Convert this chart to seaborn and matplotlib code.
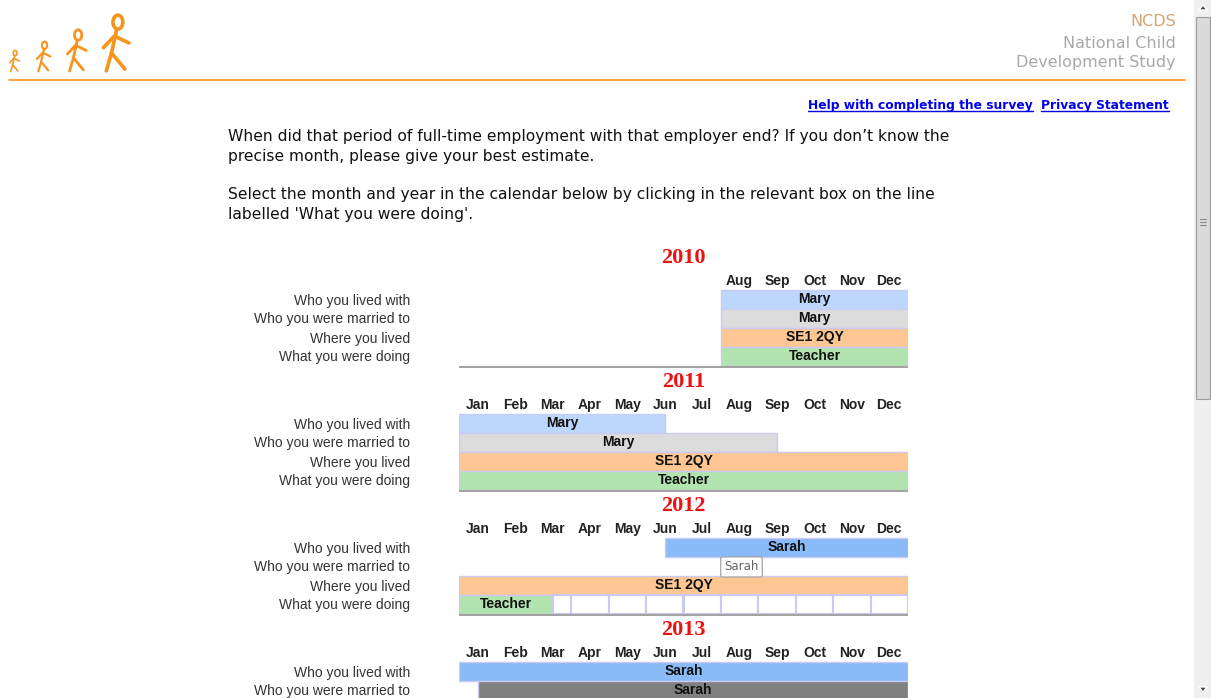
import numpy as np
import pandas as pd
import matplotlib.pyplot as plt
from matplotlib.patches import Rectangle, Ellipse, Polygon
import seaborn as sns

W, H = 1211, 698

# calendar data
years = [2010, 2011, 2012, 2013]
months = ['Jan', 'Feb', 'Mar', 'Apr', 'May', 'Jun', 'Jul', 'Aug', 'Sep', 'Oct', 'Nov', 'Dec']
first_month = [7, 0, 0, 0]          # 2010 only shown from Aug
rows_shown = [4, 4, 4, 2]           # 2013 runs off the bottom of the page
row_labels = ['Who you lived with', 'Who you were married to', 'Where you lived', 'What you were doing']

# spans on each line, in months from start of Jan (half months allowed)
seg_year  = [2010, 2010, 2010, 2010, 2011, 2011, 2011, 2011, 2012, 2012, 2012, 2013, 2013]
seg_row   = [0, 1, 2, 3, 0, 1, 2, 3, 0, 2, 3, 0, 1]
seg_start = [7, 7, 7, 7, 0, 0, 0, 0, 5.5, 0, 0, 0, 0.5]
seg_end   = [12, 12, 12, 12, 5.5, 8.5, 12, 12, 12, 12, 2.5, 12, 12]
seg_text  = ['Mary', 'Mary', 'SE1 2QY', 'Teacher', 'Mary', 'Mary', 'SE1 2QY', 'Teacher',
             'Sarah', 'SE1 2QY', 'Teacher', 'Sarah', 'Sarah']
seg_kind  = ['lived', 'married', 'where', 'doing', 'lived', 'married', 'where', 'doing',
             'lived_new', 'where', 'doing', 'lived_new', 'married_new']

# empty boxes still to click on the 'What you were doing' line
open_year = 2012
open_start = [2.5, 3, 4, 5, 6, 7, 8, 9, 10, 11]
open_end   = [3, 4, 5, 6, 7, 8, 9, 10, 11, 12]

df = pd.DataFrame({'year': seg_year, 'row': seg_row, 'start': seg_start,
                   'end': seg_end, 'text': seg_text, 'kind': seg_kind})

kind_colors = {'lived': '#bcd7fb', 'lived_new': '#88bbf8', 'married': '#dcdcdc',
               'married_new': '#808080', 'where': '#fdc692', 'doing': '#b2e4af'}
cell_edge = '#cacaf2'
orange = '#f7941d'

sns.set_theme(style='white')
plt.rcParams['font.family'] = ['Liberation Sans', 'DejaVu Sans']

fig = plt.figure(figsize=(W / 100, H / 100), dpi=100, facecolor='white')

# background layer in pixel coords (y down)
bg = fig.add_axes([0, 0, 1, 1], zorder=0)
bg.set_xlim(0, W)
bg.set_ylim(H, 0)
bg.axis('off')


def stick(cx, base, h):
    lw = 0.04 * h + 0.3
    bg.add_patch(Ellipse((cx + 0.05 * h, base - 0.86 * h), 0.17 * h, 0.24 * h,
                         fill=False, ec=orange, lw=lw))
    hip = (cx - 0.06 * h, base - 0.33 * h)
    bg.plot([cx + 0.03 * h, hip[0]], [base - 0.74 * h, hip[1]], color=orange, lw=lw,
            solid_capstyle='round')
    bg.plot([cx - 0.2 * h, cx - 0.01 * h, cx + 0.24 * h],
            [base - 0.42 * h, base - 0.62 * h, base - 0.5 * h], color=orange, lw=lw,
            solid_capstyle='round', solid_joinstyle='round')
    bg.plot([cx - 0.15 * h, hip[0], cx + 0.17 * h], [base - 0.02 * h, hip[1], base - 0.05 * h],
            color=orange, lw=lw, solid_capstyle='round', solid_joinstyle='round')


for cx, hh in zip([14, 43, 76, 115], [22, 31, 43, 58]):
    stick(cx, 72, hh)

bg.plot([9, 1185], [80, 80], color=orange, lw=1.2)

hdr = dict(ha='right', va='center', family='DejaVu Sans', fontsize=11.5)
bg.text(1176, 22, 'NCDS', color='#d8a26f', **hdr)
bg.text(1176, 43, 'National Child', color='#a8a8a8', **hdr)
bg.text(1176, 63, 'Development Study', color='#a8a8a8', **hdr)

lnk = dict(ha='right', va='center', family='DejaVu Sans', fontsize=8.85,
           fontweight='bold', color='#0000ee')
links = [bg.text(1169, 105, 'Privacy Statement', **lnk),
         bg.text(1033, 105, 'Help with completing the survey', **lnk)]

body = dict(ha='left', va='center', family='DejaVu Sans', fontsize=11.2, color='#111111')
bg.text(228, 137, "When did that period of full-time employment with that employer end? If you don\u2019t know the", **body)
bg.text(228, 157, "precise month, please give your best estimate.", **body)
bg.text(228, 194, "Select the month and year in the calendar below by clicking in the relevant box on the line", **body)
bg.text(228, 214, "labelled 'What you were doing'.", **body)

# scrollbar
bg.add_patch(Rectangle((1194, 0), 17, H, fc='#f0f0f0', ec='none'))
bg.add_patch(Rectangle((1196, 17), 14, 382, fc='#dadada', ec='#9c9c9c', lw=0.8))
for gy in [219, 222, 225]:
    bg.plot([1200, 1206], [gy, gy], color='#8a8a8a', lw=0.8)
bg.add_patch(Polygon([[1199, 10], [1207, 10], [1203, 5]], fc='#444444'))
bg.add_patch(Polygon([[1199, 687], [1207, 687], [1203, 692]], fc='#444444'))

# calendar blocks
grid_left, grid_right = 459, 908
row_px = 19
for i, year in enumerate(years):
    top0 = 258 + 124 * i
    ylo, yhi = -2.35, 3.62
    top_px = top0 + 41 + row_px * ylo
    bot_px = top0 + 41 + row_px * yhi
    ax = fig.add_axes([grid_left / W, 1 - bot_px / H, (grid_right - grid_left) / W,
                       (bot_px - top_px) / H], zorder=2)
    ax.patch.set_visible(False)
    ax.set_xlim(0, 12)
    ax.set_ylim(yhi, ylo)
    sns.despine(ax=ax, left=True, bottom=True)
    ax.set_xticks([])
    n = rows_shown[i]
    ax.set_yticks(range(n))
    ax.set_yticklabels(row_labels[:n], fontsize=10, color='#333333')
    ax.tick_params(axis='y', length=0, pad=35)

    ax.text(6, -2.16, str(year), ha='center', va='center', family='Liberation Serif',
            fontsize=16, fontweight='bold', color='#ee1111')
    for m in range(first_month[i], 12):
        ax.text(m + 0.5, -0.95, months[m], ha='center', va='center', fontsize=10,
                fontweight='bold', color='#222222')

    sub = df[df['year'] == year]
    ax.barh(sub['row'], sub['end'] - sub['start'], left=sub['start'], height=1.0,
            color=[kind_colors[k] for k in sub['kind']], edgecolor=cell_edge, linewidth=1)
    for _, r in sub.iterrows():
        ax.text((r['start'] + r['end']) / 2, r['row'], r['text'], ha='center', va='center',
                fontsize=10, fontweight='bold', color='#111111')

    if year == open_year:
        ax.barh([3] * len(open_start), np.array(open_end) - np.array(open_start),
                left=open_start, height=1.0, color='white', edgecolor=cell_edge, linewidth=1.5)
        ax.text(7.55, 1.05, 'Sarah', ha='center', va='center', family='DejaVu Sans',
                fontsize=8.5, color='#666666', zorder=5,
                bbox=dict(boxstyle='round,pad=0.3,rounding_size=0.15', fc='white', ec='#9a9a9a', lw=0.8))

    ax.axhline(3.56, color='#a4a4a4', lw=1.5)

# underline the links
fig.canvas.draw()
inv = bg.transData.inverted()
for t in links:
    bb = t.get_window_extent()
    (x0, y0), (x1, _) = inv.transform([[bb.x0, bb.y0], [bb.x1, bb.y1]])
    bg.plot([x0, x1], [y0 - 1, y0 - 1], color='#0000ee', lw=1)

fig.savefig('out.png', dpi=100, facecolor='white')
